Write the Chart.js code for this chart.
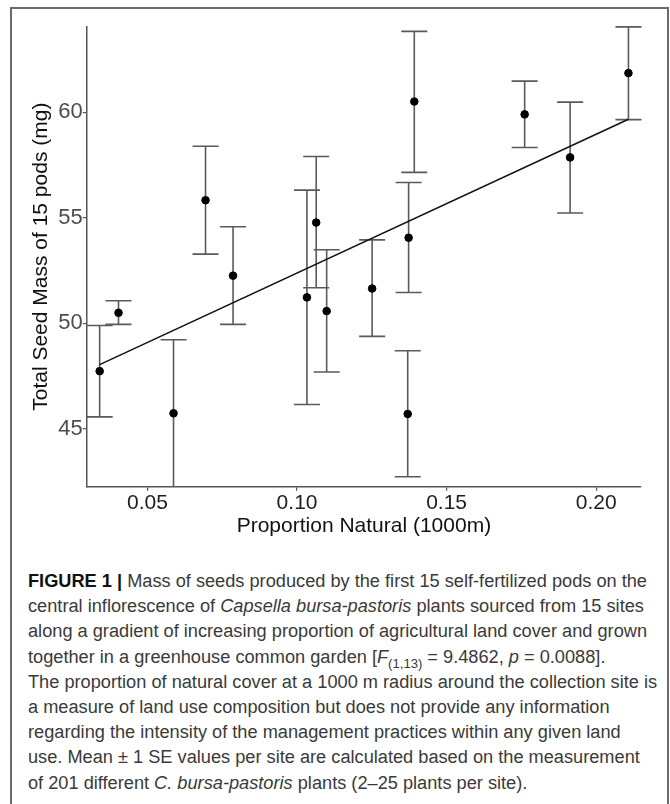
<!DOCTYPE html>
<html>
<head>
<meta charset="utf-8">
<script src="https://cdn.jsdelivr.net/npm/chart.js@4.4.1/dist/chart.umd.min.js"></script>
<style>
  html, body { margin: 0; padding: 0; background: #fff; }
  #page { position: relative; width: 670px; height: 804px; overflow: hidden; background: #fff; }
  #frame { position: absolute; left: 10px; top: 7px; width: 655px; height: 900px; border: 2px solid #6a6a6a; }
  #plot { position: absolute; left: 0; top: 0; width: 670px; height: 545px; }
  #cap {
    position: absolute; left: 28px; top: 569px;
    font-family: "Liberation Sans", Arial, sans-serif; font-size: 18px; line-height: 25.2px;
    color: #3a3a3a; white-space: nowrap; transform-origin: 0 0;
  }
  #cap b { color: #111; }
  #cap sub { font-size: 0.72em; line-height: 0; vertical-align: -0.35em; }
</style>
</head>
<body>
<div id="page">
  <div id="frame"></div>
  <div id="plot"><canvas id="seedChart" width="670" height="545"></canvas></div>
  <div id="cap"><span id="capLine1"><b>FIGURE 1 |</b> Mass of seeds produced by the first 15 self-fertilized pods on the</span><br>central inflorescence of <i>Capsella bursa-pastoris</i> plants sourced from 15 sites<br>along a gradient of increasing proportion of agricultural land cover and grown<br>together in a greenhouse common garden [<i>F</i><sub>(1,13)</sub> = 9.4862, <i>p</i> = 0.0088].<br>The proportion of natural cover at a 1000 m radius around the collection site is<br>a measure of land use composition but does not provide any information<br>regarding the intensity of the management practices within any given land<br>use. Mean ± 1 SE values per site are calculated based on the measurement<br>of 201 different <i>C. bursa-pastoris</i> plants (2–25 plants per site).</div>
</div>

<script>
// site means
const propNatural = [0.034, 0.0403, 0.0587, 0.0694, 0.0786, 0.1033, 0.1064, 0.1099, 0.1251, 0.1373, 0.137, 0.1392, 0.1761, 0.1913, 0.2108];
const seedMass    = [47.72, 50.49, 45.72, 55.83, 52.25, 51.22, 54.77, 50.57, 51.64, 54.05, 45.69, 60.51, 59.90, 57.86, 61.86];
const seUpper     = [49.89, 51.06, 49.21, 58.39, 54.57, 56.31, 57.90, 53.48, 53.95, 56.67, 48.69, 63.84, 61.48, 60.48, 64.05];
const seLower     = [45.55, 49.94, 42.21, 53.27, 49.94, 46.14, 51.68, 47.68, 49.37, 51.45, 42.71, 57.15, 58.33, 55.22, 59.65];

// fitted regression line (end points)
const fitX = [0.034, 0.2108];
const fitY = [48.03, 59.67];

const xTicks = [0.05, 0.10, 0.15, 0.20];
const yTicks = [45, 50, 55, 60];

const FONT = '"Liberation Sans", Arial, sans-serif';

const errorBars = {
    id: 'errorBars',
    beforeDatasetsDraw(chart) {
        const { ctx, chartArea, scales: { x, y } } = chart;
        ctx.save();
        ctx.beginPath();
        ctx.rect(chartArea.left - 20, chartArea.top - 4, chartArea.right - chartArea.left + 40, chartArea.bottom - chartArea.top + 4);
        ctx.clip();
        ctx.strokeStyle = '#5a5a5a';
        ctx.lineWidth = 1.6;
        const capHalf = 13;
        for (let i = 0; i < propNatural.length; i++) {
            const px = x.getPixelForValue(propNatural[i]);
            const top = y.getPixelForValue(seUpper[i]);
            const bot = y.getPixelForValue(seLower[i]);
            ctx.beginPath();
            ctx.moveTo(px, top);
            ctx.lineTo(px, bot);
            ctx.moveTo(px - capHalf, top);
            ctx.lineTo(px + capHalf, top);
            ctx.moveTo(px - capHalf, bot);
            ctx.lineTo(px + capHalf, bot);
            ctx.stroke();
        }
        ctx.restore();
    }
};

const ctx = document.getElementById('seedChart');
new Chart(ctx, {
    type: 'scatter',
    data: {
        datasets: [
            {
                label: 'Site mean',
                data: propNatural.map((v, i) => ({ x: v, y: seedMass[i] })),
                backgroundColor: '#000',
                borderColor: '#000',
                pointRadius: 3.8,
                order: 1
            },
            {
                label: 'Fit',
                type: 'line',
                data: fitX.map((v, i) => ({ x: v, y: fitY[i] })),
                borderColor: '#111',
                borderWidth: 1.5,
                pointRadius: 0,
                fill: false,
                order: 0
            }
        ]
    },
    options: {
        responsive: false,
        animation: false,
        layout: { padding: { left: 0, top: 26.7, right: 29, bottom: 0 } },
        plugins: {
            legend: { display: false },
            tooltip: { enabled: false }
        },
        scales: {
            x: {
                type: 'linear',
                min: 0.0297,
                max: 0.215,
                afterFit: s => { s.height = 58.3; },
                afterBuildTicks: s => { s.ticks = xTicks.map(v => ({ value: v })); },
                border: { display: true, color: '#555', width: 1.5 },
                grid: { drawOnChartArea: false, drawTicks: true, tickLength: 4, color: '#555', lineWidth: 1.2 },
                ticks: {
                    color: '#1e1e1e',
                    font: { family: FONT, size: 21 },
                    padding: 0,
                    maxRotation: 0,
                    callback: v => v.toFixed(2)
                },
                title: {
                    display: true,
                    text: 'Proportion Natural (1000m)',
                    color: '#111',
                    font: { family: FONT, size: 21 },
                    padding: { top: 0, bottom: 6.4 }
                }
            },
            y: {
                type: 'linear',
                min: 42.24,
                max: 64.06,
                afterFit: s => { s.width = 86.8; },
                afterBuildTicks: s => { s.ticks = yTicks.map(v => ({ value: v })); },
                border: { display: true, color: '#555', width: 1.5 },
                grid: { drawOnChartArea: false, drawTicks: true, tickLength: 4, color: '#555', lineWidth: 1.2 },
                ticks: {
                    color: '#4d4d4d',
                    font: { family: FONT, size: 22 },
                    padding: 0
                },
                title: {
                    display: true,
                    text: 'Total Seed Mass of 15 pods (mg)',
                    color: '#111',
                    font: { family: FONT, size: 21 },
                    padding: { top: 28.4, bottom: 0 }
                }
            }
        }
    },
    plugins: [errorBars]
});

// squeeze the caption to the width of the printed one
const cap = document.getElementById('cap');
const w1 = document.getElementById('capLine1').getBoundingClientRect().width;
cap.style.transform = 'scaleX(' + (619 / w1) + ')';
</script>
</body>
</html>
